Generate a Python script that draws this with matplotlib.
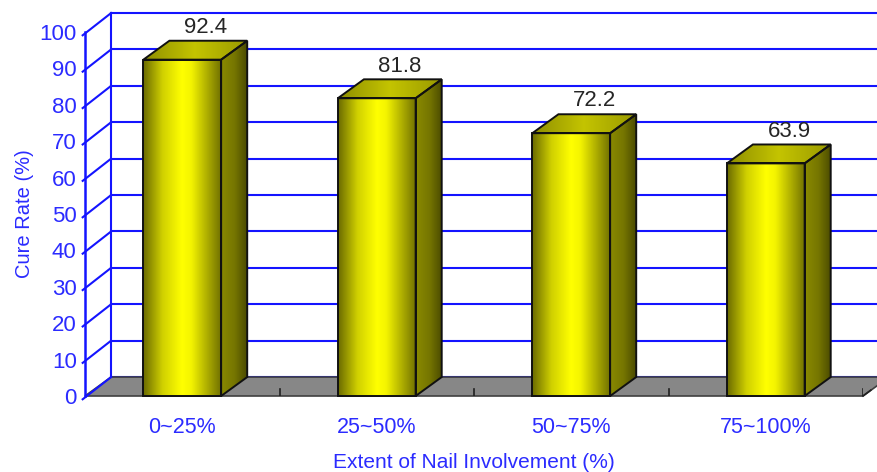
import numpy as np
import matplotlib.pyplot as plt
from matplotlib.colors import LinearSegmentedColormap
from matplotlib.patches import Polygon

plt.rcParams['font.family'] = ['Liberation Sans', 'DejaVu Sans']

categories = ['0~25%', '25~50%', '50~75%', '75~100%']
cure_rate = [92.4, 81.8, 72.2, 63.9]
y_ticks = [0, 10, 20, 30, 40, 50, 60, 70, 80, 90, 100]

BLUE = '#1414ff'
TEXT_BLUE = '#2b2bff'
DX, DY = 0.134, 5.2   # depth offset of the 3D box (x in categories, y in %)
HALF_W = 0.2          # half bar width

front_cmap = LinearSegmentedColormap.from_list(
    'front', [(0, '#6a6a00'), (0.25, '#d0d000'), (0.5, '#ffff00'),
              (0.62, '#f4f400'), (1, '#727200')])
side_cmap = LinearSegmentedColormap.from_list(
    'side', [(0, '#8a8a00'), (0.5, '#767600'), (1, '#484800')])
top_cmap = LinearSegmentedColormap.from_list(
    'top', [(0, '#8e8e00'), (0.5, '#c4c400'), (1, '#9a9a00')])
grad = np.linspace(0, 1, 256).reshape(1, -1)

fig = plt.figure(figsize=(8.77, 4.72), dpi=100)
ax = fig.add_axes([85 / 877, 76 / 472, 778 / 877, 364 / 472])
x_lo, x_hi = -0.5, len(categories) - 0.5

# floor
floor = Polygon([(x_lo, 0), (x_hi, 0), (x_hi + DX, DY), (x_lo + DX, DY)],
                closed=True, facecolor='#878787', edgecolor='#404040',
                linewidth=1.2, zorder=1, clip_on=False)
ax.add_patch(floor)

# back wall gridlines and side wall diagonals
for v in y_ticks:
    ax.plot([x_lo + DX, x_hi + DX + 0.2], [v + DY, v + DY], color=BLUE,
            lw=1.5, zorder=2 if v > 0 else 0.5, clip_on=False)
    ax.plot([x_lo - 0.012, x_lo + DX], [v - 0.9, v + DY], color=BLUE,
            lw=1.5, zorder=2, clip_on=False)
ax.plot([x_lo + DX, x_lo + DX], [DY, 100 + DY], color=BLUE, lw=1.5,
        zorder=2, clip_on=False)
ax.plot([x_lo, x_lo], [0, 100], color=BLUE, lw=1.8, zorder=2, clip_on=False)

# floor ticks between categories
for b in np.arange(x_lo + 1, x_hi + 0.5, 1):
    ax.plot([b, b], [0, 2], color='#202020', lw=1.2, zorder=3)
ax.plot([x_hi, x_hi + 0.04], [0, 1.6], color='#202020', lw=1.2, zorder=3,
        clip_on=False)

# bars
for i, v in enumerate(cure_rate):
    l, r = i - HALF_W, i + HALF_W
    im = ax.imshow(grad, cmap=front_cmap, extent=(l, r, 0, v),
                   aspect='auto', zorder=4, interpolation='bilinear')
    side = [(r, 0), (r + DX, DY), (r + DX, v + DY), (r, v)]
    top = [(l, v), (r, v), (r + DX, v + DY), (l + DX, v + DY)]
    for pts, cmap, ext in [(side, side_cmap, (r, r + DX, 0, v + DY)),
                           (top, top_cmap, (l, r + DX, v, v + DY))]:
        poly = Polygon(pts, closed=True, facecolor='none', edgecolor='none')
        ax.add_patch(poly)
        im2 = ax.imshow(grad, cmap=cmap, extent=ext, aspect='auto',
                        zorder=4, interpolation='bilinear')
        im2.set_clip_path(poly)
    for pts in [[(l, 0), (r, 0), (r, v), (l, v)], side, top]:
        ax.add_patch(Polygon(pts, closed=True, facecolor='none',
                             edgecolor='#111111', lw=1.4, zorder=5,
                             clip_on=False))
    ax.annotate(f'{v}', (i + DX, v + DY), xytext=(-2, 2),
                textcoords='offset points', ha='center', va='bottom',
                fontsize=16, color='#262626')

ax.set_xlim(x_lo, x_hi)
ax.set_ylim(0, 100)
for s in ax.spines.values():
    s.set_visible(False)
ax.set_yticks(y_ticks)
ax.tick_params(axis='y', length=0, pad=6, colors=TEXT_BLUE, labelsize=16)
ax.set_xticks(range(len(categories)))
ax.set_xticklabels(categories)
ax.tick_params(axis='x', length=0, pad=15, colors=TEXT_BLUE, labelsize=15.5)
ax.set_ylabel('Cure Rate (%)', color=TEXT_BLUE, fontsize=14.5, labelpad=4)
ax.set_xlabel('Extent of Nail Involvement (%)', color=TEXT_BLUE,
              fontsize=15, labelpad=11)

fig.savefig('out.png', dpi=100)
